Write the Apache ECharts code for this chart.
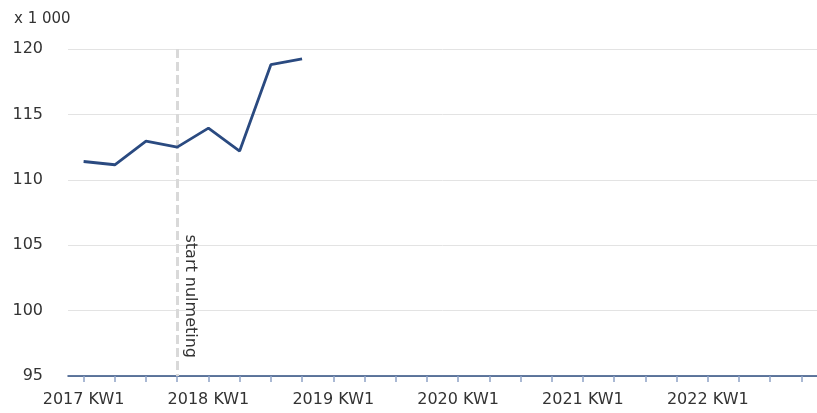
<!DOCTYPE html>
<html>
<head>
<meta charset="utf-8">
<script src="https://cdn.jsdelivr.net/npm/echarts@6/dist/echarts.min.js"></script>
<style>
  html, body { margin: 0; padding: 0; background: #fff; }
  #chart { width: 817px; height: 413px; }
</style>
</head>
<body>
<div id="chart"></div>
<script>
  // kwartalen 2017 t/m 2022
  var years = [2017, 2018, 2019, 2020, 2021, 2022];
  var quarters = ['KW1', 'KW2', 'KW3', 'KW4'];
  var categories = [];
  years.forEach(function (y) {
    quarters.forEach(function (q) { categories.push(y + ' ' + q); });
  });

  // waarden x 1 000 (2017 KW1 - 2018 KW4)
  var values = [111.4, 111.15, 112.95, 112.5, 113.95, 112.2, 118.8, 119.25];

  var yTicks = { min: 95, max: 120, interval: 5 };
  var startLabel = 'start nulmeting';
  var startCategory = '2017 KW4';

  var font = 'DejaVu Sans';
  var myChart = echarts.init(document.getElementById('chart'));
  myChart.setOption({
    animation: false,
    title: {
      text: 'x 1 000',
      left: 9,
      top: 7,
      textStyle: { fontFamily: font, fontSize: 15, fontWeight: 'normal', color: '#333' }
    },
    grid: { left: 68, right: -6, top: 49, bottom: 37 },
    xAxis: {
      type: 'category',
      data: categories,
      boundaryGap: true,
      axisLine: { show: true, lineStyle: { color: '#2e4d80', width: 1.5 } },
      axisTick: { show: true, alignWithLabel: true, interval: 0, length: 6, lineStyle: { color: '#8ea3c6', width: 1.5 } },
      axisLabel: {
        interval: 3,
        margin: 16,
        fontFamily: font,
        fontSize: 16,
        color: '#333'
      },
      splitLine: { show: false }
    },
    yAxis: {
      type: 'value',
      min: yTicks.min,
      max: yTicks.max,
      interval: yTicks.interval,
      axisLine: { show: false },
      axisTick: { show: false },
      axisLabel: { margin: 25, fontFamily: font, fontSize: 16, color: '#333' },
      splitLine: { lineStyle: { color: '#e3e3e3', width: 1 } }
    },
    series: [
      {
        type: 'line',
        data: values,
        z: 3,
        clip: false,
        showSymbol: false,
        symbol: 'none',
        lineStyle: { color: '#2a4a80', width: 2.8 },
        markLine: {
          z: 1,
          silent: true,
          symbol: 'none',
          lineStyle: { color: '#d9d9d9', width: 3, type: [9, 4] },
          label: {
            show: true,
            position: 'insideEndTop',
            distance: [18, 5],
            formatter: startLabel,
            fontFamily: font,
            fontSize: 16,
            color: '#333'
          },
          data: [
            [
              { xAxis: startCategory, yAxis: yTicks.max },
              { xAxis: startCategory, yAxis: yTicks.min }
            ]
          ]
        }
      }
    ]
  });
</script>
</body>
</html>
